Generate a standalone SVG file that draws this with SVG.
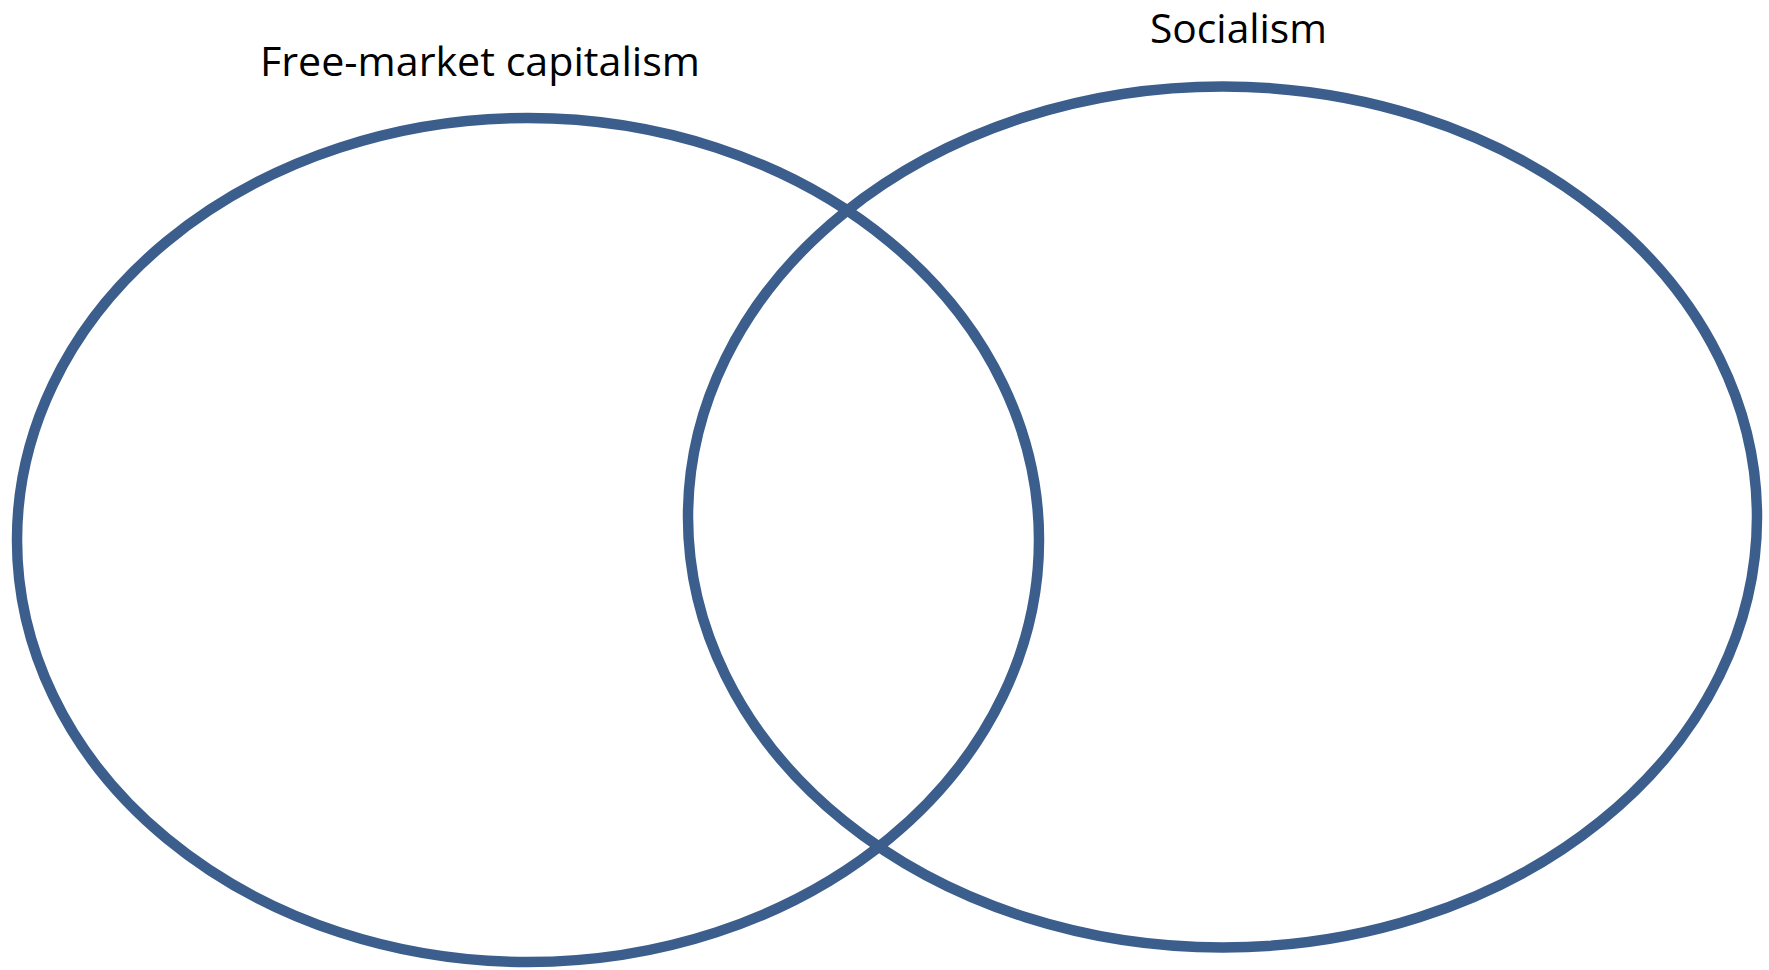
<svg xmlns="http://www.w3.org/2000/svg" width="1769" height="970" viewBox="0 0 1769 970">
<style>
.ring{fill:none;stroke:#3B5E8C;stroke-width:10.5}
.lbl{font-family:"Open Sans","Liberation Sans",sans-serif;font-size:40px;fill:#000}
</style>
<rect width="1769" height="970" fill="#fff"/>
<g id="capitalism">
<ellipse class="ring" cx="528" cy="540" rx="511" ry="422"/>
<text class="lbl" x="260" y="76" textLength="440" lengthAdjust="spacingAndGlyphs">Free-market capitalism</text>
</g>
<g id="socialism">
<ellipse class="ring" cx="1222.5" cy="517" rx="534.5" ry="430.5"/>
<text class="lbl" x="1150" y="43" textLength="177" lengthAdjust="spacingAndGlyphs">Socialism</text>
</g>
<g id="connectors"/>
</svg>
